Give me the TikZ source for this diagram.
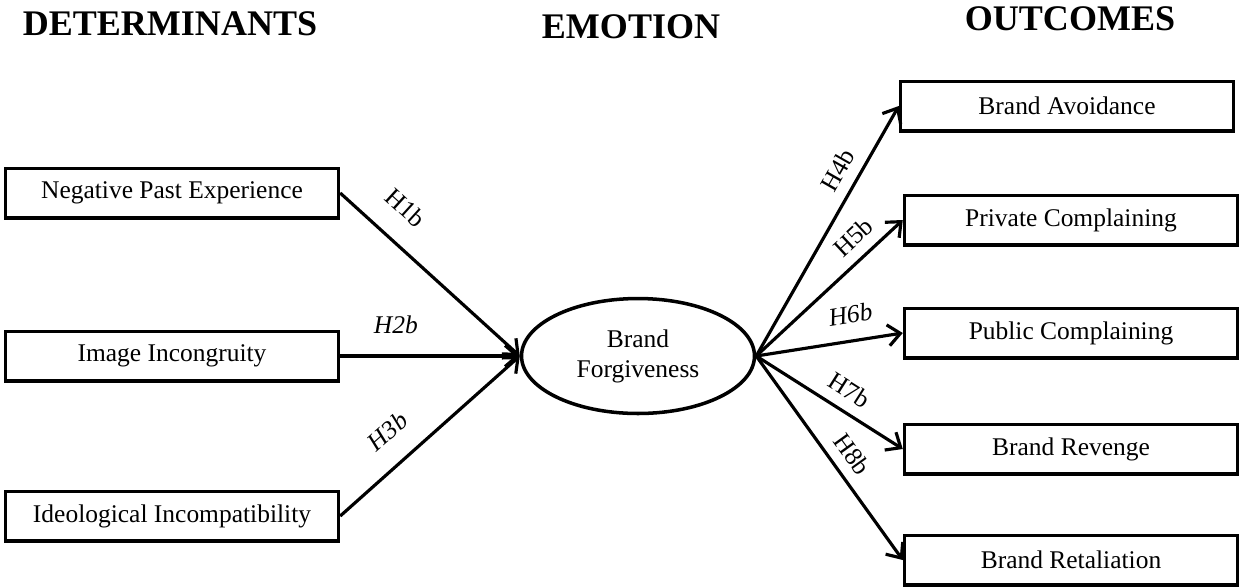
\documentclass[tikz,border=0pt]{standalone}
\usepackage{fontspec}
\setmainfont{Liberation Serif}
\usetikzlibrary{shapes.geometric,arrows.meta}

\tikzset{
  box/.style={draw,line width=2pt,minimum width=6.66cm,minimum height=0.99cm,inner sep=0pt,font=\fontsize{14.5}{17}\selectfont},
  oval/.style={draw,ellipse,line width=2pt,minimum width=4.66cm,minimum height=2.3cm,inner sep=0pt,align=center,font=\fontsize{14.5}{17}\selectfont},
  head/.style={font=\fontsize{20.5}{24}\selectfont\bfseries},
  hyp/.style={line width=1.8pt,-{Straight Barb[length=7pt,width=12pt,line width=1.8pt]}},
  lbl/.style={font=\fontsize{14.5}{17}\selectfont,sloped,inner sep=1pt,above=5pt}
}

\begin{document}
\begin{tikzpicture}[x=0.02cm,y=-0.02cm]
  \useasboundingbox (0,0) rectangle (1241,586);

  % column headings
  \node[head] (hdet) at (170,24) {DETERMINANTS};
  \node[head] (hemo) at (631,27) {EMOTION};
  \node[head] (hout) at (1070,19) {OUTCOMES};

  % determinants
  \node[box] (neg) at (172,193) {Negative Past Experience};
  \node[box] (img) at (172,356) {Image Incongruity};
  \node[box] (ideo) at (172,516) {Ideological Incompatibility};

  % emotion
  \node[oval] (bf) at (638,356) {Brand\\Forgiveness};

  % outcomes
  \node[box] (avoid) at (1067,106) {Brand Avoidance};
  \node[box] (priv) at (1071,220) {Private Complaining};
  \node[box] (pub) at (1071,333) {Public Complaining};
  \node[box] (rev) at (1071,449) {Brand Revenge};
  \node[box] (ret) at (1071,560) {Brand Retaliation};

  \draw[hyp] (neg.east) -- node[lbl,pos=0.24,above=7pt] {H1b} (bf.west);
  \draw[hyp] (img.east) -- node[lbl,pos=0.31,above=6pt] {\itshape H2b} (bf.west);
  \draw[hyp] (ideo.east) -- node[lbl,pos=0.38,above=6pt] {\itshape H3b} (bf.west);

  \draw[hyp] (bf.east) -- node[lbl,pos=0.70] {H4b} (avoid.west);
  \draw[hyp] (bf.east) -- node[lbl,pos=0.76] {H5b} (priv.west);
  \draw[hyp] (bf.east) -- node[lbl,pos=0.67,above=3pt] {\itshape H6b} (pub.west);
  \draw[hyp] (bf.east) -- node[lbl,pos=0.56] {H7b} (rev.west);
  \draw[hyp] (bf.east) -- node[lbl,pos=0.54] {H8b} (ret.west);
\end{tikzpicture}
\end{document}
